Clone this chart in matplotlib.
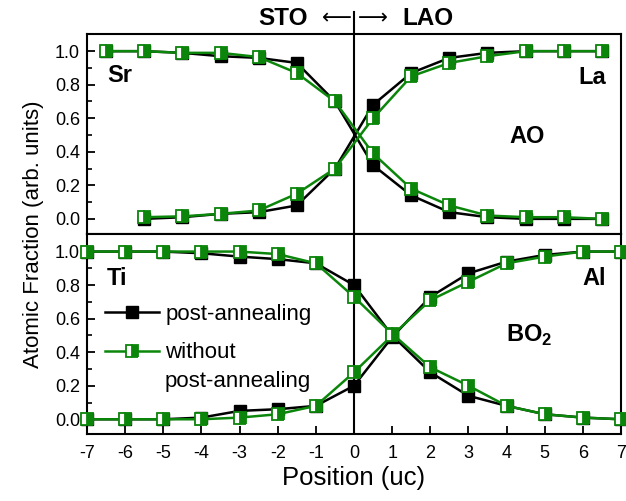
import numpy as np
import matplotlib
matplotlib.use("Agg")
import matplotlib.pyplot as plt
from matplotlib.lines import Line2D
from matplotlib import transforms

plt.rcParams['font.family'] = ['Liberation Sans', 'DejaVu Sans']
plt.rcParams['mathtext.fontset'] = 'custom'
plt.rcParams['mathtext.rm'] = 'Liberation Sans'
plt.rcParams['mathtext.bf'] = 'Liberation Sans:bold'

GREEN = "#0b860b"

# AO layer (half-integer positions)
x_sr = [-6.5, -5.5, -4.5, -3.5, -2.5, -1.5, -0.5, 0.5, 1.5, 2.5, 3.5, 4.5, 5.5, 6.5]
sr_post = [1.0, 1.0, 0.99, 0.97, 0.96, 0.93, 0.70, 0.32, 0.14, 0.04, 0.01, 0.0, 0.0, 0.0]
sr_wo = [1.0, 1.0, 0.99, 0.99, 0.965, 0.87, 0.70, 0.39, 0.18, 0.08, 0.02, 0.01, 0.01, 0.0]

x_la = [-5.5, -4.5, -3.5, -2.5, -1.5, -0.5, 0.5, 1.5, 2.5, 3.5, 4.5, 5.5, 6.5]
la_post = [0.0, 0.01, 0.03, 0.04, 0.08, 0.30, 0.68, 0.87, 0.96, 0.99, 1.0, 1.0, 1.0]
la_wo = [0.01, 0.015, 0.03, 0.05, 0.15, 0.30, 0.60, 0.85, 0.93, 0.97, 1.0, 1.0, 1.0]

# BO2 layer (integer positions)
x_b = [-7, -6, -5, -4, -3, -2, -1, 0, 1, 2, 3, 4, 5, 6, 7]
ti_post = [1.0, 1.0, 1.0, 0.99, 0.97, 0.955, 0.93, 0.80, 0.50, 0.28, 0.14, 0.08, 0.03, 0.01, 0.0]
ti_wo = [1.0, 1.0, 1.0, 1.0, 1.0, 0.985, 0.93, 0.73, 0.51, 0.31, 0.20, 0.08, 0.03, 0.01, 0.0]
al_post = [0.0, 0.0, 0.0, 0.01, 0.05, 0.06, 0.08, 0.20, 0.49, 0.73, 0.87, 0.94, 0.98, 1.0, 1.0]
al_wo = [0.0, 0.0, 0.0, 0.0, 0.01, 0.03, 0.08, 0.28, 0.50, 0.71, 0.82, 0.93, 0.97, 1.0, 1.0]

x_ticks = list(range(-7, 8))
y_ticks = [0.0, 0.2, 0.4, 0.6, 0.8, 1.0]

black_style = dict(color="black", lw=1.8, marker="s", ms=9, mfc="black", mec="black", clip_on=False)
green_style = dict(color=GREEN, lw=1.8, marker="s", ms=8.5, mfc=GREEN, mec=GREEN, mew=1.3,
                   fillstyle="right", markerfacecoloralt="white", clip_on=False)

fig = plt.figure(figsize=(6.26, 5.01), dpi=100)
ax1 = fig.add_axes([0.139, 0.533, 0.853, 0.400])
ax2 = fig.add_axes([0.139, 0.133, 0.853, 0.400])

for ax in (ax1, ax2):
    ax.set_xlim(-7, 7)
    ax.set_ylim(-0.09, 1.105)
    ax.set_yticks(y_ticks)
    ax.set_yticklabels([f"{v:.1f}" for v in y_ticks])
    ax.set_yticks(np.arange(0.1, 1.0, 0.2), minor=True)
    ax.tick_params(axis="y", which="major", direction="in", length=6, width=1.3,
                   labelsize=13, right=False, pad=5)
    ax.tick_params(axis="y", which="minor", direction="in", length=3.5, width=1.2, right=False)
    ax.axvline(0, color="black", lw=1.5, zorder=1)
    for s in ax.spines.values():
        s.set_linewidth(1.5)

ax1.set_xticks([])
ax2.set_xticks(x_ticks)
ax2.set_xticklabels([str(v) for v in x_ticks])
ax2.tick_params(axis="x", direction="in", length=6, width=1.3, labelsize=13, top=False, pad=8)

ax1.plot(x_sr, sr_post, **black_style, zorder=3)
ax1.plot(x_la, la_post, **black_style, zorder=3)
ax1.plot(x_sr, sr_wo, **green_style, zorder=4)
ax1.plot(x_la, la_wo, **green_style, zorder=4)

l_post, = ax2.plot(x_b, ti_post, **black_style, zorder=3)
ax2.plot(x_b, al_post, **black_style, zorder=3)
l_wo, = ax2.plot(x_b, ti_wo, **green_style, zorder=4)
ax2.plot(x_b, al_wo, **green_style, zorder=4)

lab = dict(fontsize=17, fontweight="bold")
ax1.text(-6.48, 0.855, "Sr", ha="left", va="center", **lab)
ax1.text(6.6, 0.845, "La", ha="right", va="center", **lab)
ax1.text(4.55, 0.49, "AO", ha="center", va="center", **lab)
ax2.text(-6.48, 0.84, "Ti", ha="left", va="center", **lab)
ax2.text(6.6, 0.84, "Al", ha="right", va="center", **lab)
ax2.text(4.6, 0.50, "BO$_\\mathbf{2}$", ha="center", va="center", **lab)

leg = ax2.legend([l_post, l_wo], ["post-annealing", "without"], loc="upper left",
                 bbox_to_anchor=(0.034, 0.65), frameon=False, fontsize=16,
                 handlelength=2.4, labelspacing=0.78, borderaxespad=0.0, borderpad=0.0,
                 handletextpad=0.3)
ax2.text(-4.96, 0.225, "post-annealing", ha="left", va="center", fontsize=16)

fig.text(0.565, 0.046, "Position (uc)", ha="center", va="center", fontsize=18.5)
fig.text(0.053, 0.533, "Atomic Fraction (arb. units)", rotation=90, ha="center", va="center",
         fontsize=16)

# interface marker above the top panel
tr = transforms.blended_transform_factory(ax2.transData, fig.transFigure)
fig.add_artist(Line2D([0, 0], [1 - 12 / 501, 0.933], transform=tr, color="black", lw=1.5))
ty = 1 - 18.5 / 501
fig.text(308 / 626, ty, "STO", ha="right", va="center", fontsize=17.5, fontweight="bold")
fig.text(402 / 626, ty, "LAO", ha="left", va="center", fontsize=17.5, fontweight="bold")
fig.text(337 / 626, ty, "\u27f5", ha="center", va="center", fontsize=15, family="DejaVu Sans")
fig.text(373 / 626, ty, "\u27f6", ha="center", va="center", fontsize=15, family="DejaVu Sans")

fig.savefig("out.png", dpi=100)
